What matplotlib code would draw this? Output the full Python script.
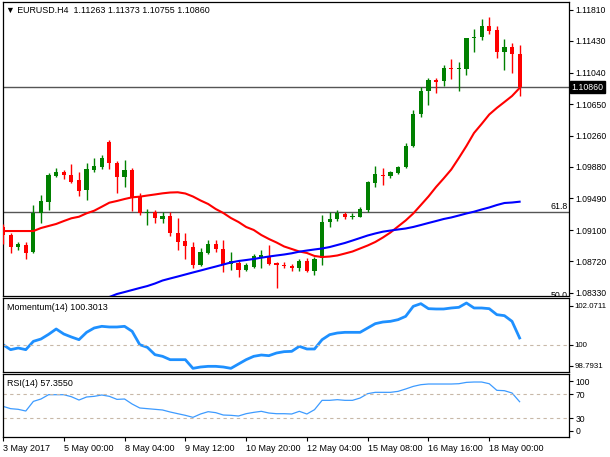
import matplotlib
matplotlib.use("Agg")
import matplotlib.pyplot as plt
import matplotlib.transforms as mtransforms

plt.rcParams['font.family'] = ['Liberation Sans', 'DejaVu Sans']

# EURUSD H4 candles (bar 0 = 3 May 16:00)
opens = [1.09142, 1.09040, 1.08889, 1.08917, 1.08827, 1.09307, 1.09443, 1.09770, 1.09819, 1.09779,
         1.09717, 1.09594, 1.09840, 1.09881, 1.10189, 1.09923, 1.09748, 1.09840, 1.09508, 1.09307,
         1.09327, 1.09241, 1.09274, 1.09061, 1.08972, 1.08896, 1.08677, 1.08819, 1.08929, 1.08871,
         1.08689, 1.08699, 1.08609, 1.08650, 1.08773, 1.08773, 1.08692, 1.08675, 1.08659, 1.08630,
         1.08716, 1.08601, 1.08753, 1.09204, 1.09233, 1.09295, 1.09265, 1.09265, 1.09348, 1.09684,
         1.09779, 1.09770, 1.09800, 1.09874, 1.10136, 1.10530, 1.10816, 1.10942, 1.10940, 1.11100,
         1.11080, 1.11080, 1.11462, 1.11474, 1.11613, 1.11564, 1.11297, 1.11358, 1.11263]
highs = [1.09176, 1.09068, 1.08958, 1.08958, 1.09409, 1.09533, 1.09800, 1.09869, 1.09840, 1.09914,
         1.09819, 1.09930, 1.09984, 1.10025, 1.10210, 1.09955, 1.09963, 1.09861, 1.09561, 1.09357,
         1.09348, 1.09327, 1.09327, 1.09253, 1.09061, 1.08948, 1.08876, 1.08979, 1.08979, 1.08979,
         1.08827, 1.08726, 1.08692, 1.08810, 1.08855, 1.08923, 1.08711, 1.08711, 1.08679, 1.08741,
         1.08753, 1.08773, 1.09286, 1.09327, 1.09348, 1.09327, 1.09311, 1.09389, 1.09709, 1.09890,
         1.09861, 1.09828, 1.09890, 1.10176, 1.10579, 1.10866, 1.10977, 1.10969, 1.11133, 1.11203,
         1.11173, 1.11469, 1.11572, 1.11695, 1.11720, 1.11613, 1.11449, 1.11400, 1.11373]
lows = [1.08929, 1.08815, 1.08855, 1.08741, 1.08815, 1.09184, 1.09348, 1.09758, 1.09726, 1.09677,
        1.09520, 1.09471, 1.09819, 1.09849, 1.09849, 1.09561, 1.09631, 1.09336, 1.09286, 1.09163,
        1.09188, 1.09192, 1.09024, 1.08855, 1.08745, 1.08630, 1.08655, 1.08810, 1.08835, 1.08588,
        1.08609, 1.08527, 1.08601, 1.08630, 1.08640, 1.08665, 1.08388, 1.08630, 1.08601, 1.08601,
        1.08588, 1.08548, 1.08671, 1.09142, 1.09216, 1.09233, 1.09237, 1.09258, 1.09327, 1.09635,
        1.09656, 1.09738, 1.09791, 1.09861, 1.10120, 1.10496, 1.10640, 1.10788, 1.10874, 1.10957,
        1.10816, 1.11010, 1.11297, 1.11441, 1.11511, 1.11215, 1.11071, 1.11038, 1.10755]
closes = [1.09040, 1.08896, 1.08929, 1.08822, 1.09307, 1.09462, 1.09779, 1.09819, 1.09779, 1.09696,
          1.09582, 1.09849, 1.09893, 1.09992, 1.09923, 1.09748, 1.09837, 1.09512, 1.09307, 1.09329,
          1.09253, 1.09274, 1.09061, 1.08958, 1.08901, 1.08677, 1.08835, 1.08929, 1.08868, 1.08687,
          1.08714, 1.08606, 1.08671, 1.08782, 1.08794, 1.08687, 1.08671, 1.08655, 1.08630, 1.08720,
          1.08601, 1.08741, 1.09204, 1.09233, 1.09315, 1.09265, 1.09278, 1.09357, 1.09696, 1.09787,
          1.09766, 1.09812, 1.09881, 1.10136, 1.10530, 1.10816, 1.10948, 1.10924, 1.11100, 1.11084,
          1.11092, 1.11462, 1.11474, 1.11613, 1.11555, 1.11297, 1.11358, 1.11268, 1.10860]

# moving averages (red fast, blue slow)
ma_red = [1.09089, 1.09089, 1.09089, 1.09089, 1.09089, 1.09126, 1.09151, 1.09176, 1.09212, 1.09246,
          1.09265, 1.09307, 1.09339, 1.09388, 1.09438, 1.09459, 1.09483, 1.09504, 1.09512, 1.09526,
          1.09539, 1.09553, 1.09563, 1.09566, 1.09551, 1.09514, 1.09465, 1.09422, 1.09360, 1.09311,
          1.09249, 1.09200, 1.09139, 1.09102, 1.09040, 1.08991, 1.08948, 1.08899, 1.08868, 1.08837,
          1.08819, 1.08782, 1.08769, 1.08775, 1.08788, 1.08812, 1.08837, 1.08874, 1.08911, 1.08954,
          1.09009, 1.09071, 1.09145, 1.09219, 1.09305, 1.09409, 1.09514, 1.09631, 1.09736, 1.09846,
          1.09988, 1.10136, 1.10296, 1.10407, 1.10523, 1.10604, 1.10677, 1.10751, 1.10850]
blue_start = 14
ma_blue = [1.08277, 1.08314, 1.08338, 1.08363, 1.08388, 1.08412, 1.08443, 1.08480, 1.08505, 1.08529,
           1.08554, 1.08579, 1.08603, 1.08628, 1.08652, 1.08677, 1.08702, 1.08720, 1.08732, 1.08745,
           1.08761, 1.08775, 1.08788, 1.08800, 1.08815, 1.08835, 1.08849, 1.08862, 1.08874, 1.08892,
           1.08917, 1.08942, 1.08972, 1.09003, 1.09034, 1.09059, 1.09081, 1.09095, 1.09108, 1.09120,
           1.09139, 1.09163, 1.09188, 1.09212, 1.09237, 1.09256, 1.09280, 1.09305, 1.09327, 1.09354,
           1.09379, 1.09409, 1.09434, 1.09440, 1.09450]

momentum = [100.007, 99.788, 99.861, 99.788, 100.154, 100.256, 100.461, 100.696, 100.476, 100.344,
            100.227, 100.549, 100.740, 100.813, 100.784, 100.784, 100.813, 100.593, 100.007, 99.890,
            99.568, 99.495, 99.348, 99.348, 99.348, 98.967, 99.026, 99.055, 99.055, 99.026,
            98.967, 99.158, 99.348, 99.495, 99.553, 99.524, 99.641, 99.700, 99.714, 99.934,
            99.817, 99.817, 100.227, 100.447, 100.520, 100.549, 100.549, 100.549, 100.740, 100.930,
            101.003, 101.033, 101.106, 101.252, 101.692, 101.809, 101.589, 101.575, 101.575, 101.619,
            101.648, 101.838, 101.619, 101.619, 101.589, 101.326, 101.282, 101.033, 100.3013]
rsi = [49.7, 45.9, 44.8, 42.0, 57.9, 61.8, 68.9, 68.9, 68.9, 65.6,
       60.1, 65.1, 66.2, 68.4, 66.2, 61.2, 61.8, 53.5, 47.0, 45.9,
       44.8, 43.7, 40.4, 37.6, 34.9, 31.6, 37.1, 40.9, 39.3, 35.4,
       34.9, 33.8, 37.6, 39.8, 41.5, 38.7, 37.6, 37.6, 37.1, 41.5,
       37.1, 44.2, 59.6, 59.6, 60.7, 59.6, 59.6, 63.4, 70.6, 72.8,
       72.8, 72.8, 74.4, 78.3, 82.6, 85.4, 86.5, 86.5, 86.5, 86.5,
       87.0, 89.2, 89.8, 89.8, 87.0, 76.1, 75.5, 71.7, 57.355]

price_ticks = [1.11810, 1.11430, 1.11040, 1.10650, 1.10260, 1.09880, 1.09490, 1.09100, 1.08720, 1.08330]
fib_618 = 1.09323
fib_500 = 1.08230
mom_top, mom_bottom = 102.0711, 98.7931
date_ticks = [0, 8, 16, 24, 32, 40, 48, 56, 64]
date_labels = ['3 May 2017', '5 May 00:00', '8 May 04:00', '9 May 12:00', '10 May 20:00',
               '12 May 04:00', '15 May 08:00', '16 May 16:00', '18 May 00:00']

W, H = 610, 457
def rect(x0, y0, x1, y1):
    return [x0 / W, 1 - y1 / H, (x1 - x0) / W, (y1 - y0) / H]

fig = plt.figure(figsize=(W / 100, H / 100), dpi=100)
ax = fig.add_axes(rect(2.7, 2, 569, 295.7))
axm = fig.add_axes(rect(2.7, 297.7, 569, 372.3))
axr = fig.add_axes(rect(2.7, 374, 569, 437))

xlim = (-0.04, 74.5)
GREEN, RED = '#008000', '#ff0000'

# candles
idx = list(range(len(opens)))
cols = [GREEN if c >= o else RED for o, c in zip(opens, closes)]
ax.vlines(idx, lows, highs, colors=cols, linewidth=1.0, zorder=3)
bottoms = [min(o, c) for o, c in zip(opens, closes)]
heights = [max(abs(c - o), 0.00008) for o, c in zip(opens, closes)]
ax.bar(idx, heights, bottom=bottoms, width=0.55, color=cols, linewidth=0, zorder=4)

ax.plot(idx, ma_red, color='#ff0000', lw=1.5, zorder=5)
ax.plot(range(blue_start, blue_start + len(ma_blue)), ma_blue, color='#0000ff', lw=1.5, zorder=5)

ax.axhline(closes[-1], color='#555555', lw=1.0, zorder=2)
ax.axhline(fib_618, color='#555555', lw=1.0, zorder=2)
ax.axhline(fib_500, color='#555555', lw=1.0, zorder=2)
trans = mtransforms.blended_transform_factory(ax.transAxes, ax.transData)
ax.text(0.997, fib_618 + 0.0001, '61.8', transform=trans, ha='right', va='bottom', fontsize=6.3)
ax.text(0.997, fib_500 + 0.0001, '50.0', transform=trans, ha='right', va='bottom', fontsize=6.3, clip_on=True)
ax.text(1.0044, closes[-1], '1.10860', transform=trans, ha='left', va='center', fontsize=6.3,
        color='white', bbox=dict(boxstyle='square,pad=0.15', fc='black', ec='black'), clip_on=False)

ax.set_xlim(*xlim)
ax.set_ylim(1.08293, 1.11908)
ax.set_yticks(price_ticks)
ax.set_yticklabels([f'{p:.5f}' for p in price_ticks])
ax.yaxis.tick_right()
ax.set_xticks([])

# momentum
axm.plot(idx, momentum, color='#1e90ff', lw=2.0)
axm.axhline(100, color='#c8b8a8', lw=0.8, ls=(0, (3, 3)))
axm.set_xlim(*xlim)
axm.set_ylim(mom_bottom, mom_top)
axm.set_yticks([101.72, 100, 99.083])
axm.set_yticklabels([f'{mom_top:.4f}', '100', f'{mom_bottom:.4f}'])
axm.yaxis.tick_right()
axm.set_xticks([])
axm.text(0.0076, 0.875, f'Momentum(14) {momentum[-1]:.4f}', transform=axm.transAxes,
         ha='left', va='center', fontsize=6.4)

# RSI
axr.plot(idx, rsi, color='#3d9bff', lw=0.9)
for lvl in (70, 30):
    axr.axhline(lvl, color='#c8b8a8', lw=0.8, ls=(0, (3, 3)))
axr.set_xlim(*xlim)
axr.set_ylim(-0.8, 103)
axr.set_yticks([91, 70, 30, 9.5])
axr.set_yticklabels(['100', '70', '30', '0'])
axr.yaxis.tick_right()
axr.set_xticks(date_ticks)
axr.set_xticklabels(date_labels, ha='left')
axr.text(0.0076, 0.857, f'RSI(14) {rsi[-1]:.4f}', transform=axr.transAxes,
         ha='left', va='center', fontsize=6.4)

for a in (ax, axm, axr):
    for s in a.spines.values():
        s.set_linewidth(0.9)
        s.set_color('black')
    a.tick_params(axis='y', length=3, width=0.8, pad=1.5, labelsize=6.2)
    a.tick_params(axis='x', length=3, width=0.8, pad=2, labelsize=6.5)
axm.tick_params(axis='y', labelsize=5.7, pad=1)

fig.text(6 / W, 1 - 10 / H,
         f'\u25bc EURUSD.H4  {opens[-1]:.5f} {highs[-1]:.5f} {lows[-1]:.5f} {closes[-1]:.5f}',
         ha='left', va='center', fontsize=6.4)

fig.savefig('out.png', dpi=100)
